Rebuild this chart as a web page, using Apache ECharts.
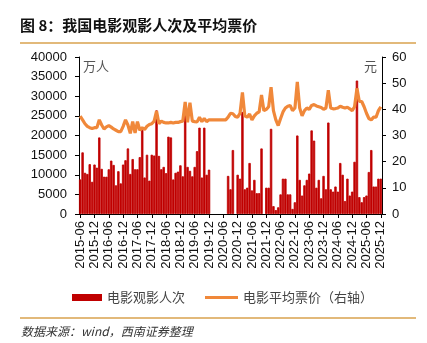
<!DOCTYPE html>
<html><head><meta charset="utf-8">
<script src="https://cdn.jsdelivr.net/npm/echarts/dist/echarts.min.js"></script>
<style>html,body{margin:0;padding:0;background:#fff}#c{width:427px;height:343px}</style>
</head><body><div id="c"></div><script>
// Months 2015-06 .. 2025-12
const months = [];
for (let y = 2015; y <= 2025; y++) {
  for (let m = 1; m <= 12; m++) {
    if (y === 2015 && m < 6) continue;
    months.push(y + '-' + (m < 10 ? '0' + m : m));
  }
}
// 电影观影人次 (万人)
const attendance = [
  8800, 15700, 10500, 10200, 12700, 8200, 12600, 11800, 19500,
  11500, 9500, 9500, 11400, 13600, 12500, 7300, 10900, 7800, 12600, 13700, 16700, 10200, 14000, 11400, 11400, 14500,
  21400,
  9300, 15100, 8500, 15100, 14900,
  26400,
  14800, 11400, 12000, 10400,
  19700, 19500,
  8800, 10500, 10800, 12400, 9600,
  27500,
  12000, 11000, 9600, 12000, 16000, 22000, 9300, 22000, 10000, 11300,
  null, null, null, null, null, null, null,
  9700, 6300, 16300, null, 10000, 9000, 26000,
  6300, 6700, 13000, 6000, 8700, 5300, 5300, 16700, null, 6700, 6700, 21700,
  2000, 1000, 1700, 5000, 9000, 9000, 5000, 5000, 1300, 3000, 20000,
  8700, 4700, 7300, 8700, 10300, 21300, 18700, 6700, 8700, 4000, 9700, 6300,
  23300, 6300, 5700, 7000, 5700, 13000, 10000, 3300, 9000, 4700, 5700, 13300,
  34000, 4300, 3000, 4300, 4700, 10700, 16300, 7000, 7000, 9000, 9000
];
// 电影平均票价 (元)
const price = [
  37.4, 36.0, 34.5, 33.5, 33.0, 32.7, 33.0, 33.0, 36.0,
  34.0, 32.5, 33.3, 33.8, 33.2, 32.5, 32.0, 31.5, 31.5, 33.5, 36.0, 34.0, 30.8, 35.3, 31.0, 35.3, 32.0,
  33.0, 32.3, 33.5, 34.2, 34.5, 35.5,
  39.3,
  34.5, 35.5, 35.0, 34.8, 34.8, 35.0, 34.8, 35.0, 35.0, 35.3, 35.5,
  42.8, 35.0, 42.5, 35.5, 35.3, 35.2, 37.0, 35.3, 36.5, 35.3, 36.0,
  36.0, 36.0, 36.0, 36.0, 36.0, 36.0, 36.0,
  37.0, 38.5, 38.3, 37.3, 37.0, 38.5, 46.5,
  37.5, 37.0, 38.2, 36.0, 37.5, 38.5, 39.0, 45.5, 39.5, 40.0, 41.0, 48.5,
  39.5, 36.0, 33.8, 36.5, 39.0, 40.5, 41.2, 41.5, 39.5, 40.5, 50.5,
  40.5, 37.5, 39.5, 40.5, 40.0, 41.5, 41.8, 41.3, 41.0, 40.7, 40.0, 40.5,
  47.3, 40.5, 40.2, 40.3, 40.5, 41.2, 40.8, 40.5, 40.8, 40.2, 39.5, 41.0,
  48.0, 43.0, 43.0, 41.0, 38.5, 36.5, 36.0, 37.0, 37.0, 39.5, 41.0
];
const leftTicks = { min: 0, max: 40000, interval: 5000 };
const rightTicks = { min: 0, max: 60, interval: 10 };
const seriesNames = ['电影观影人次', '电影平均票价（右轴）'];

const cjk = '"Noto Sans CJK SC", sans-serif';
const num = '"Liberation Sans", Arial, sans-serif';
const chart = echarts.init(document.getElementById('c'), null, { renderer: 'canvas' });
const axisCommon = {
  axisLine: { show: true, lineStyle: { color: '#000', width: 1 } },
  axisTick: { show: true, length: 4, lineStyle: { color: '#000' } },
  splitLine: { show: false }
};
const labelCommon = { fontSize: 13, color: '#111', fontFamily: num, formatter: v => String(v) };
chart.setOption({
  animation: false,
  backgroundColor: '#fff',
  grid: { left: 79, right: 45, top: 57, bottom: 129, containLabel: false },
  legend: [
    { data: [seriesNames[0]], left: 72, top: 291, padding: 0, icon: 'rect', itemWidth: 30, itemHeight: 7, itemGap: 0,
      itemStyle: { borderWidth: 0 },
      textStyle: { fontSize: 13, color: '#444', fontFamily: cjk } },
    { data: [seriesNames[1]], left: 205, top: 291, padding: 0, icon: 'rect', itemWidth: 33, itemHeight: 3, itemGap: 0,
      textStyle: { fontSize: 13, color: '#444', fontFamily: cjk } }
  ],
  xAxis: {
    type: 'category', data: months, boundaryGap: true,
    axisLine: { show: true, lineStyle: { color: '#000', width: 1 } },
    axisTick: { show: true, alignWithLabel: true, interval: 5, length: 4, lineStyle: { color: '#000' } },
    axisLabel: { interval: 5, rotate: 90, fontSize: 13, color: '#111', fontFamily: num, margin: 7 }
  },
  yAxis: [
    Object.assign({ type: 'value', position: 'left' }, leftTicks, axisCommon,
      { axisLabel: Object.assign({}, labelCommon, { margin: 12 }) }),
    Object.assign({ type: 'value', position: 'right' }, rightTicks, axisCommon,
      { axisLabel: Object.assign({}, labelCommon, { margin: 10 }) })
  ],
  series: [
    { name: seriesNames[0], type: 'bar', yAxisIndex: 0, data: attendance,
      itemStyle: { color: '#C00000', borderColor: '#C00000', borderWidth: 0.8 }, barWidth: '100%', barGap: '0%' },
    { name: seriesNames[1], type: 'line', yAxisIndex: 1, data: price, symbol: 'none',
      itemStyle: { color: '#F0883A' }, lineStyle: { color: '#F0883A', width: 3.2 }, z: 5 }
  ],
  graphic: [
    { type: 'text', left: 20, top: 18, style: { text: '图 8：我国电影观影人次及平均票价', font: 'bold 15px ' + cjk, fill: '#111' } },
    { type: 'line', shape: { x1: 20, y1: 43, x2: 416, y2: 43 }, style: { stroke: '#D9A24E', lineWidth: 1.5 } },
    { type: 'text', left: 83, top: 60, style: { text: '万人', font: '13px ' + cjk, fill: '#555' } },
    { type: 'text', left: 364, top: 60, style: { text: '元', font: '13px ' + cjk, fill: '#555' } },
    { type: 'line', shape: { x1: 20, y1: 318, x2: 416, y2: 318 }, style: { stroke: '#D9A24E', lineWidth: 1.5 } },
    { type: 'text', left: 21, top: 325, style: { text: '数据来源：wind，西南证券整理', font: 'italic 12px ' + cjk, fill: '#333' } }
  ]
});
</script></body></html>
